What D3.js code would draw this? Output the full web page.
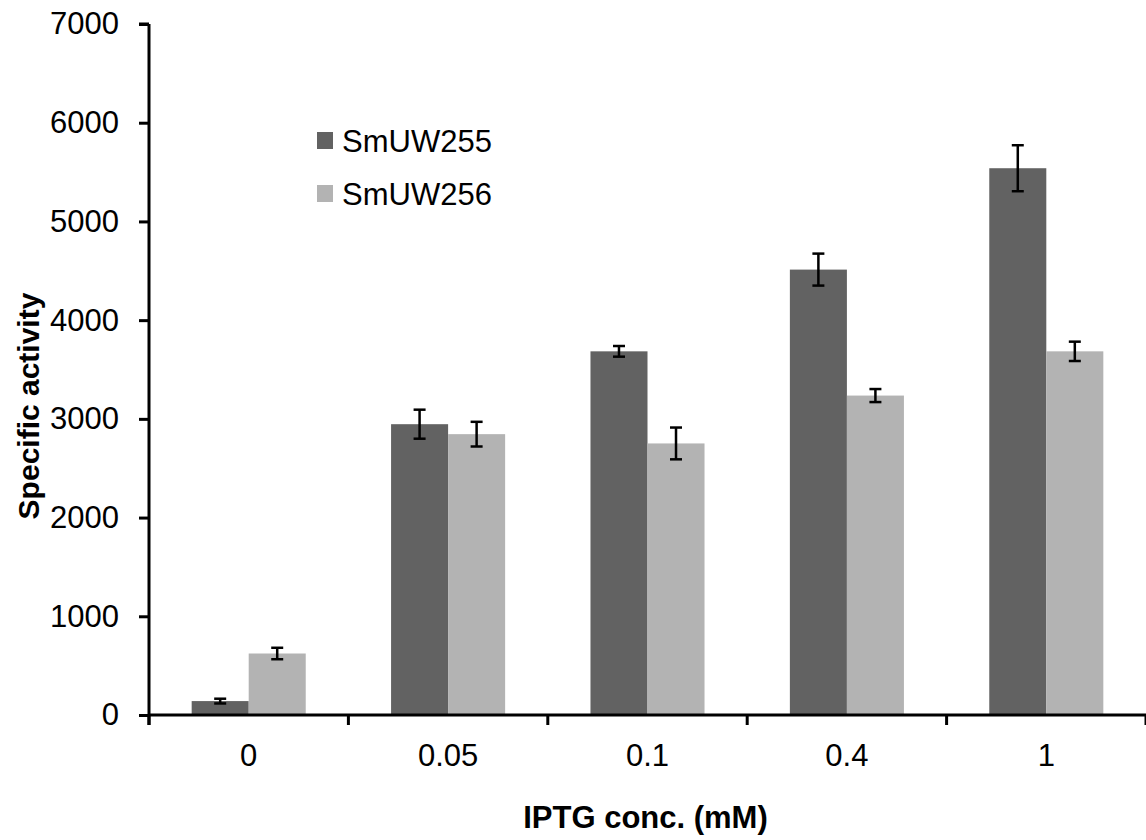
<!DOCTYPE html>
<html>
<head>
<meta charset="utf-8">
<script src="https://cdn.jsdelivr.net/npm/d3@7"></script>
<style>
  body { margin: 0; background: #fff; }
  text { font-family: "Liberation Sans", Arial, sans-serif; fill: #000; }
</style>
</head>
<body>
<div id="chart"></div>
<script>
const categories = ["0", "0.05", "0.1", "0.4", "1"];
const seriesNames = ["SmUW255", "SmUW256"];
const smuw255 = [141, 2946, 3684, 4512, 5539];
const smuw255Err = [24, 147, 54, 162, 233];
const smuw256 = [623, 2845, 2751, 3236, 3684];
const smuw256Err = [58, 125, 161, 66, 98];
const yTicks = [0, 1000, 2000, 3000, 4000, 5000, 6000, 7000];
const colors = ["#626262", "#b3b3b3"];

const W = 1146, H = 840;
const margin = { top: 24, right: 0, bottom: 125, left: 149 };
const width = W - margin.left - margin.right,
  height = H - margin.top - margin.bottom;

const svg = d3.select("#chart").append("svg")
  .attr("width", W).attr("height", H);

const g = svg.append("g")
  .attr("transform", "translate(" + margin.left + "," + margin.top + ")");

const xScale = d3.scaleBand().domain(categories).range([0, width])
  .paddingInner(0.428).paddingOuter(0.214);
const xSub = d3.scaleBand().domain(seriesNames).range([0, xScale.bandwidth()]);
const yScale = d3.scaleLinear().domain([0, 7000]).range([height, 0]);

const data = categories.map((c, i) => ({
  cat: c,
  vals: [
    { s: seriesNames[0], v: smuw255[i], e: smuw255Err[i], c: colors[0] },
    { s: seriesNames[1], v: smuw256[i], e: smuw256Err[i], c: colors[1] }
  ]
}));

// bars
const groups = g.selectAll(".grp").data(data).enter().append("g")
  .attr("transform", d => "translate(" + xScale(d.cat) + ",0)");

groups.selectAll("rect").data(d => d.vals).enter().append("rect")
  .attr("x", d => xSub(d.s))
  .attr("y", d => yScale(d.v))
  .attr("width", xSub.bandwidth())
  .attr("height", d => height - yScale(d.v))
  .attr("fill", d => d.c);

// error bars
const capW = 6;
const mid = d => xSub(d.s) + xSub.bandwidth() / 2;
const eb = groups.selectAll(".err").data(d => d.vals).enter().append("g")
  .attr("stroke", "#000").attr("stroke-width", 2.5);
eb.append("line")
  .attr("x1", mid).attr("x2", mid)
  .attr("y1", d => yScale(d.v + d.e))
  .attr("y2", d => yScale(d.v - d.e));
eb.append("line")
  .attr("x1", d => mid(d) - capW).attr("x2", d => mid(d) + capW)
  .attr("y1", d => yScale(d.v + d.e))
  .attr("y2", d => yScale(d.v + d.e));
eb.append("line")
  .attr("x1", d => mid(d) - capW).attr("x2", d => mid(d) + capW)
  .attr("y1", d => yScale(d.v - d.e))
  .attr("y2", d => yScale(d.v - d.e));

// y axis
const yAxis = d3.axisLeft(yScale).tickValues(yTicks).tickSize(10).tickPadding(20)
  .tickFormat(d3.format("d"));
const yAxisG = g.append("g").call(yAxis);
yAxisG.select(".domain").attr("d", "M0," + yScale(7000) + "V" + (height + 10)
  + "M-10," + yScale(7000) + "H0");
yAxisG.selectAll("path, line").attr("stroke", "#000").attr("stroke-width", 3);
yAxisG.selectAll("text").attr("font-size", 31)
  .style("font-family", "'Liberation Sans', Arial, sans-serif");

// x axis: labels at category centres, ticks at boundaries
const xAxis = d3.axisBottom(xScale).tickSize(0).tickPadding(29);
const xAxisG = g.append("g").attr("transform", "translate(0," + height + ")").call(xAxis);
xAxisG.select(".domain").attr("stroke", "#000").attr("stroke-width", 3)
  .attr("d", "M0,0H" + width);
xAxisG.selectAll("text").attr("font-size", 31)
  .style("font-family", "'Liberation Sans', Arial, sans-serif");

const bounds = d3.range(categories.length + 1).map(i => i * xScale.step());
xAxisG.selectAll(".bound").data(bounds).enter().append("line")
  .attr("x1", d => d).attr("x2", d => d)
  .attr("y1", 0).attr("y2", 10)
  .attr("stroke", "#000").attr("stroke-width", 3);

// axis titles
svg.append("text")
  .attr("x", margin.left + width / 2 - 2)
  .attr("y", 828)
  .attr("text-anchor", "middle")
  .attr("font-size", 31).attr("font-weight", "bold")
  .text("IPTG conc. (mM)");

svg.append("text")
  .attr("transform", "translate(39,406) rotate(-90)")
  .attr("text-anchor", "middle")
  .attr("font-size", 30).attr("font-weight", "bold")
  .text("Specific activity");

// legend
const legend = svg.append("g").attr("transform", "translate(317,132)");
const li = legend.selectAll("g").data(seriesNames).enter().append("g")
  .attr("transform", (d, i) => "translate(0," + i * 53 + ")");
li.append("rect").attr("width", 16).attr("height", 17)
  .attr("fill", (d, i) => colors[i]);
li.append("text").attr("x", 25).attr("y", 20)
  .attr("font-size", 31).text(d => d);
</script>
</body>
</html>
